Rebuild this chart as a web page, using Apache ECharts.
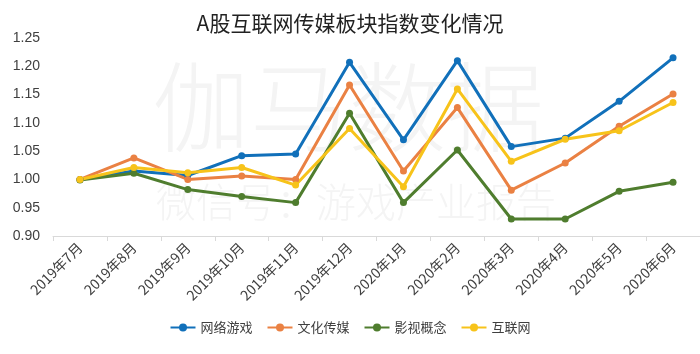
<!DOCTYPE html>
<html>
<head>
<meta charset="utf-8">
<script src="https://cdn.jsdelivr.net/npm/echarts@6/dist/echarts.min.js"></script>
<style>
  html, body { margin: 0; padding: 0; background: #fff; }
  #chart { width: 700px; height: 354px; }
</style>
</head>
<body>
<div id="chart"></div>
<script>
// 横坐标：月份
const months = ['2019年7月', '2019年8月', '2019年9月', '2019年10月', '2019年11月', '2019年12月',
  '2020年1月', '2020年2月', '2020年3月', '2020年4月', '2020年5月', '2020年6月'];
// 各板块指数
const seriesNames = ['网络游戏', '文化传媒', '影视概念', '互联网'];
const onlineGames = [1.000, 1.015, 1.007, 1.042, 1.045, 1.207, 1.070, 1.210, 1.058, 1.073, 1.138, 1.215];
const cultureMedia = [1.000, 1.038, 1.000, 1.006, 1.000, 1.167, 1.015, 1.127, 0.981, 1.029, 1.094, 1.151];
const filmTv = [0.999, 1.011, 0.982, 0.970, 0.959, 1.117, 0.959, 1.052, 0.930, 0.930, 0.979, 0.995];
const internet = [1.000, 1.021, 1.012, 1.021, 0.990, 1.090, 0.987, 1.160, 1.032, 1.071, 1.086, 1.136];
// 纵坐标范围
const yMin = 0.90, yMax = 1.25, yStep = 0.05;

const colors = ['#1170ba', '#ea8143', '#4f7d2e', '#f7c31a'];
const dataList = [onlineGames, cultureMedia, filmTv, internet];

const chart = echarts.init(document.getElementById('chart'));
let option = {
  animation: false,
  color: colors,
  title: {
    text: 'A股互联网传媒板块指数变化情况',
    left: 'center',
    top: 8,
    textStyle: {
      fontFamily: 'Noto Sans CJK SC',
      fontSize: 21,
      fontWeight: 'normal',
      color: '#222'
    }
  },
  // 水印
  graphic: [
    {
      type: 'text', left: 152, top: 58, z: -10, silent: true,
      style: { text: '伽马数据', fontSize: 98, fontWeight: 300, fontFamily: 'Noto Sans CJK SC', fill: '#f4f4f4' }
    },
    {
      type: 'text', left: 156, top: 182, z: -10, silent: true,
      style: { text: '微信号：游戏产业报告', fontSize: 40, fontWeight: 300, fontFamily: 'Noto Sans CJK SC', fill: '#f4f4f4' }
    }
  ],
  grid: {
    left: 53,
    right: 0,
    top: 38,
    bottom: 118,
    containLabel: false
  },
  legend: {
    data: seriesNames,
    bottom: 15,
    left: 'center',
    itemWidth: 25,
    itemHeight: 10,
    itemGap: 14,
    textStyle: {
      fontFamily: 'Noto Sans CJK SC',
      fontSize: 13,
      color: '#404040'
    }
  },
  xAxis: {
    type: 'category',
    data: months,
    boundaryGap: true,
    axisLine: { show: true, lineStyle: { color: '#d9d9d9', width: 1 } },
    axisTick: { show: true, alignWithLabel: false, length: 5, lineStyle: { color: '#d9d9d9' } },
    axisLabel: {
      interval: 0,
      rotate: 45,
      margin: 9,
      fontFamily: 'Noto Sans CJK SC',
      fontSize: 14,
      color: '#404040'
    }
  },
  yAxis: {
    type: 'value',
    min: yMin,
    max: yMax,
    interval: yStep,
    axisLine: { show: false },
    axisTick: { show: false },
    splitLine: { show: false },
    axisLabel: {
      margin: 13,
      fontFamily: 'Liberation Sans',
      fontSize: 14,
      color: '#404040',
      formatter: function (v) { return v.toFixed(2); }
    }
  },
  series: []
};

for (let i = 0; i < seriesNames.length; i++) {
  option.series.push({
    type: 'line',
    name: seriesNames[i],
    data: dataList[i],
    symbol: 'circle',
    symbolSize: 7,
    lineStyle: { width: 3, color: colors[i] },
    itemStyle: { color: colors[i] }
  });
}

chart.setOption(option);
</script>
</body>
</html>
